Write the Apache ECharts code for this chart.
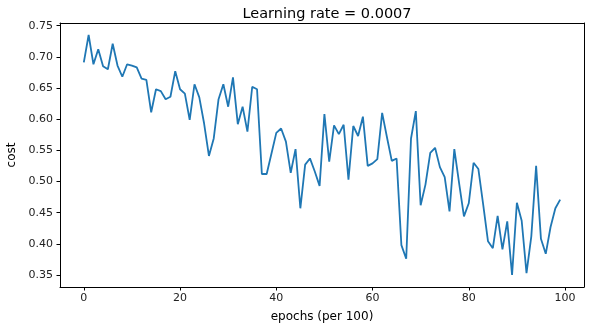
<!DOCTYPE html>
<html>
<head>
<meta charset="utf-8">
<script src="https://cdn.jsdelivr.net/npm/echarts@6/dist/echarts.min.js"></script>
<style>html,body{margin:0;padding:0;background:#fff}#c{width:593px;height:333px}</style>
</head>
<body>
<div id="c"></div>
<script>
const titleText = "Learning rate = 0.0007";
const xLabel = "epochs (per 100)";
const yLabel = "cost";
const xTicks = [0, 20, 40, 60, 80, 100];
const yTicks = [0.35, 0.40, 0.45, 0.50, 0.55, 0.60, 0.65, 0.70, 0.75];
const costs = [
  0.691, 0.735, 0.688, 0.712, 0.685, 0.680, 0.721, 0.686, 0.668, 0.688,
  0.686, 0.683, 0.665, 0.663, 0.611, 0.648, 0.645, 0.632, 0.636, 0.677,
  0.648, 0.641, 0.599, 0.656, 0.635, 0.593, 0.541, 0.569, 0.632, 0.656,
  0.620, 0.667, 0.592, 0.620, 0.580, 0.652, 0.648, 0.512, 0.512, 0.545,
  0.578, 0.585, 0.564, 0.514, 0.552, 0.457, 0.527, 0.537, 0.516, 0.493,
  0.608, 0.532, 0.590, 0.576, 0.591, 0.503, 0.589, 0.573, 0.604, 0.525,
  0.529, 0.536, 0.610, 0.571, 0.533, 0.537, 0.398, 0.376, 0.569, 0.613,
  0.462, 0.495, 0.546, 0.554, 0.523, 0.507, 0.452, 0.552, 0.497, 0.444,
  0.465, 0.530, 0.520, 0.463, 0.404, 0.393, 0.445, 0.391, 0.436, 0.350,
  0.466, 0.437, 0.353, 0.412, 0.525, 0.408, 0.384, 0.427, 0.457, 0.471
];

const data = costs.map((v, i) => [i, v]);
const ymin = Math.min(...costs), ymax = Math.max(...costs);
const ypad = (ymax - ymin) * 0.05;
const xpad = (costs.length - 1) * 0.05;
const font = "DejaVu Sans";
const xmin = -xpad, xmax = costs.length - 1 + xpad;
const y0 = ymin - ypad, y1 = ymax + ypad;

const frameAxis = (extra) => Object.assign({
  type: 'value', splitLine: {show: false},
  axisLine: {show: true, onZero: false, lineStyle: {color: '#000', width: 1}},
  axisTick: {show: false}, axisLabel: {show: false}
}, extra);

const chart = echarts.init(document.getElementById('c'), null, {renderer: 'canvas'});
chart.setOption({
  animation: false,
  backgroundColor: '#fff',
  title: {
    text: titleText, left: 322, top: 2, textAlign: 'center',
    textStyle: {fontFamily: font, fontSize: 14.5, fontWeight: 'normal', color: '#000'}
  },
  grid: {left: 60, right: 9, top: 23, bottom: 46, containLabel: false, outerBoundsMode: 'none'},
  xAxis: [{
    type: 'value', min: xmin, max: xmax,
    name: xLabel, nameLocation: 'middle', nameGap: 24,
    nameTextStyle: {fontFamily: font, fontSize: 12, color: '#000'},
    splitLine: {show: false},
    axisLine: {show: true, onZero: false, lineStyle: {color: '#000', width: 1}},
    axisTick: {show: true, length: 3.5, lineStyle: {color: '#000'}, customValues: xTicks},
    axisLabel: {fontFamily: font, fontSize: 11, color: '#222', margin: 6, customValues: xTicks}
  }, frameAxis({position: 'top', min: xmin, max: xmax})],
  yAxis: [{
    type: 'value', min: y0, max: y1,
    name: yLabel, nameLocation: 'middle', nameGap: 40, nameRotate: 90,
    nameTextStyle: {fontFamily: font, fontSize: 12, color: '#000'},
    splitLine: {show: false},
    axisLine: {show: true, onZero: false, lineStyle: {color: '#000', width: 1}},
    axisTick: {show: true, length: 3.5, lineStyle: {color: '#000'}, customValues: yTicks},
    axisLabel: {fontFamily: font, fontSize: 11, color: '#222', margin: 7, customValues: yTicks,
      formatter: v => v.toFixed(2)}
  }, frameAxis({position: 'right', min: y0, max: y1})],
  series: [{
    type: 'line', data: data, showSymbol: false, symbol: 'none',
    lineStyle: {color: '#1f77b4', width: 1.8}, itemStyle: {color: '#1f77b4'}
  }]
});
</script>
</body>
</html>
